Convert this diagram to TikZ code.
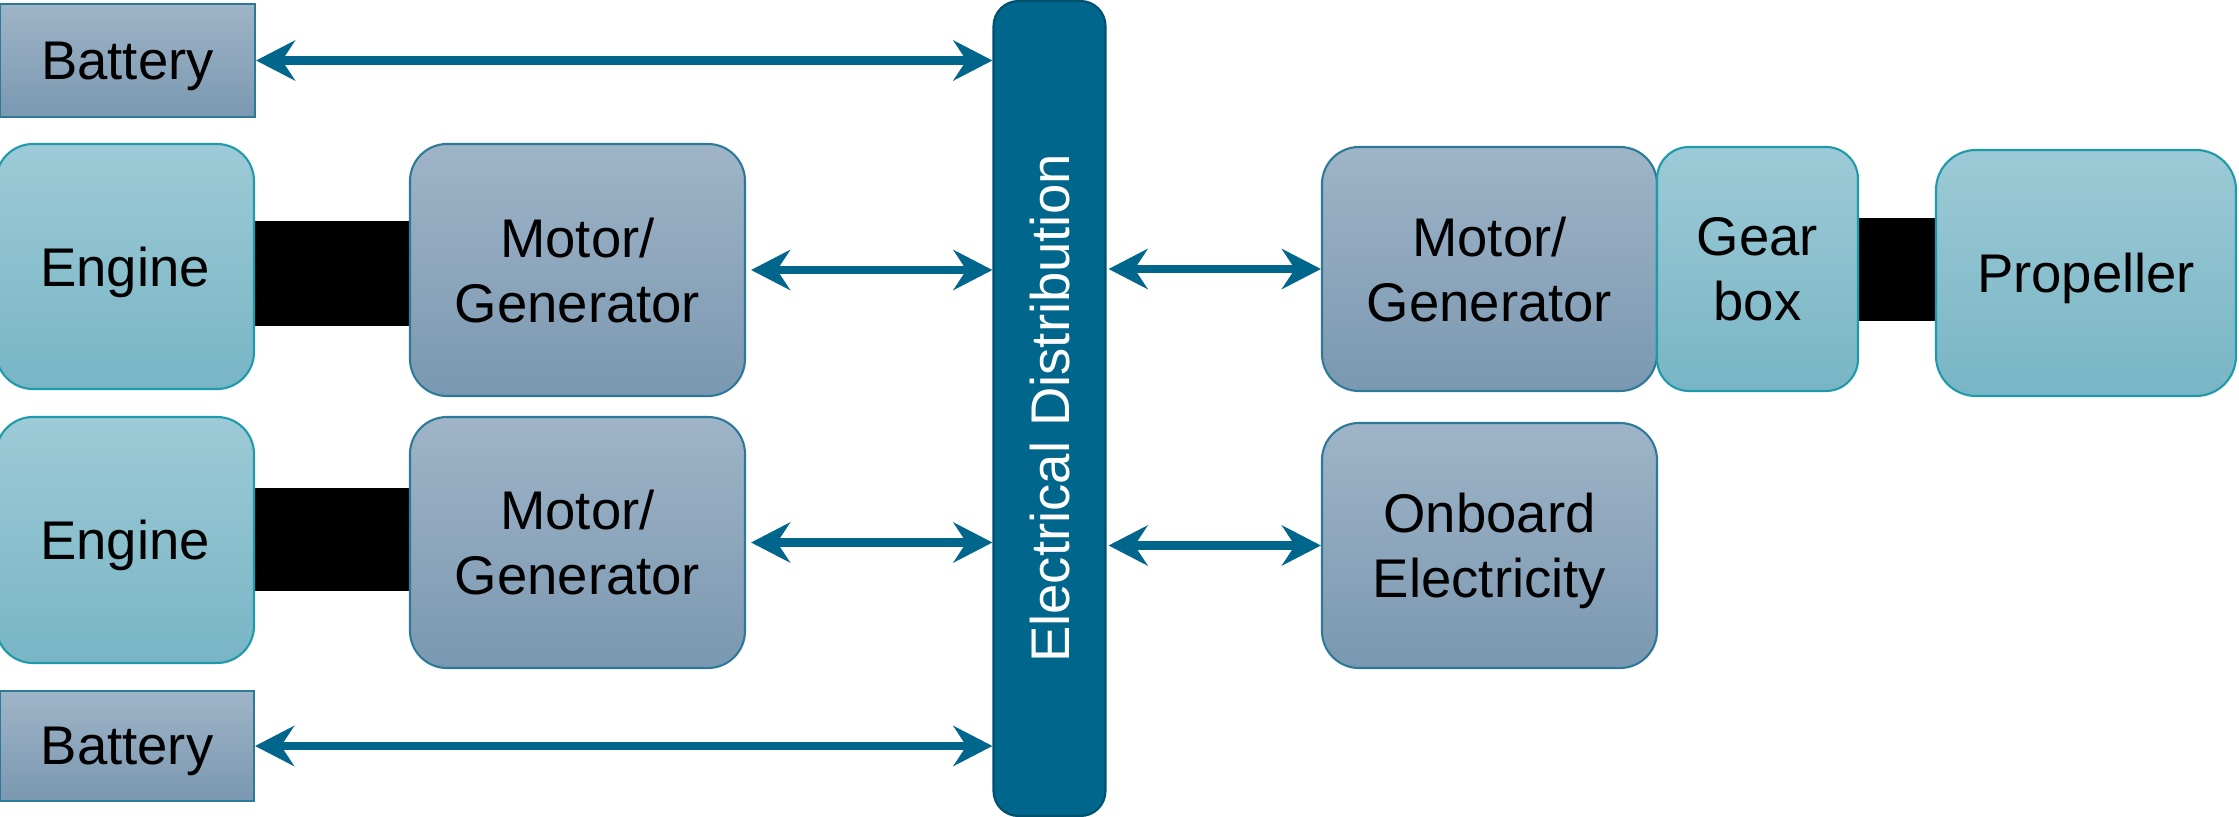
\documentclass[tikz,border=0pt]{standalone}
\usepackage{fontspec}
\setmainfont{Liberation Sans}
\usetikzlibrary{arrows.meta}

\definecolor{busblue}{HTML}{00668C}
\definecolor{busedge}{HTML}{00506E}
\definecolor{slatetop}{HTML}{9FB4C7}
\definecolor{slatebot}{HTML}{7A98B1}
\definecolor{slateedge}{HTML}{2C7A98}
\definecolor{tealtop}{HTML}{9DCAD6}
\definecolor{tealbot}{HTML}{78B5C5}
\definecolor{tealedge}{HTML}{1E9AAA}

\tikzset{
  lbl/.style={font=\fontsize{15.5pt}{18.5pt}\selectfont, align=center, text=black, inner sep=0pt, text depth=0pt},
  elecbox/.style={lbl, draw=slateedge, line width=0.6pt, top color=slatetop, bottom color=slatebot, rounded corners=0.37cm},
  batbox/.style={lbl, draw=slateedge, line width=0.6pt, top color=slatetop, bottom color=slatebot},
  mechbox/.style={lbl, draw=tealedge, line width=0.6pt, top color=tealtop, bottom color=tealbot, rounded corners=0.37cm},
  shaft/.style={fill=black, draw=none, inner sep=0pt},
  busbar/.style={fill=busblue, draw=busedge, line width=0.6pt, rounded corners=0.25cm, inner sep=0pt},
  tip/.style={Stealth[length=0.39cm, width=0.40cm, inset=0.13cm]},
  link/.style={draw=busblue, line width=2.3pt, {Stealth[length=0.39cm, width=0.40cm, inset=0.13cm]}-{Stealth[length=0.39cm, width=0.40cm, inset=0.13cm]}}
}

\begin{document}
\begin{tikzpicture}
\useasboundingbox (0,0) rectangle (22.39,-8.17);

% mechanical shafts (under the boxes)
\node[shaft, minimum width=1.60cm, minimum height=1.05cm] (shaft1) at (3.32,-2.735) {};
\node[shaft, minimum width=1.60cm, minimum height=1.03cm] (shaft2) at (3.32,-5.395) {};
\node[shaft, minimum width=0.82cm, minimum height=1.03cm] (shaft3) at (18.97,-2.695) {};

% electrical distribution bus
\node[busbar, minimum width=1.12cm, minimum height=8.15cm] (bus) at (10.495,-4.085) {};
\node[rotate=90, text=white, font=\fontsize{15.5pt}{18.5pt}\selectfont, text depth=0pt] (buslabel) at (bus.center) {Electrical Distribution};

% left side
\node[batbox, minimum width=2.55cm, minimum height=1.13cm] (bat1) at (1.275,-0.605) {Battery};
\node[mechbox, minimum width=2.58cm, minimum height=2.45cm] (eng1) at (1.25,-2.665) {Engine};
\node[elecbox, minimum width=3.35cm, minimum height=2.52cm] (mg1) at (5.775,-2.70) {Motor/\\Generator};
\node[mechbox, minimum width=2.58cm, minimum height=2.46cm] (eng2) at (1.25,-5.40) {Engine};
\node[elecbox, minimum width=3.35cm, minimum height=2.51cm] (mg2) at (5.775,-5.425) {Motor/\\Generator};
\node[batbox, minimum width=2.54cm, minimum height=1.10cm] (bat2) at (1.27,-7.46) {Battery};

% right side
\node[elecbox, minimum width=3.35cm, minimum height=2.44cm] (mg3) at (14.895,-2.69) {Motor/\\Generator};
\node[mechbox, minimum width=2.01cm, minimum height=2.44cm, rounded corners=0.32cm] (gear) at (17.575,-2.69) {Gear\\box};
\node[mechbox, minimum width=3.00cm, minimum height=2.46cm, rounded corners=0.40cm] (prop) at (20.86,-2.73) {Propeller};
\node[elecbox, minimum width=3.35cm, minimum height=2.45cm] (onb) at (14.895,-5.455) {Onboard\\Electricity};

% electrical links
\draw[link] (bat1.east) -- (bus.west |- bat1.east);
\draw[link, shorten <=0.05cm] (mg1.east) -- (bus.west |- mg1.east);
\draw[link, shorten <=0.05cm] (mg2.east) -- (bus.west |- mg2.east);
\draw[link] (bat2.east) -- (bus.west |- bat2.east);
\draw[link, shorten <=0.02cm] (bus.east |- mg3.west) -- (mg3.west);
\draw[link, shorten <=0.02cm] (bus.east |- onb.west) -- (onb.west);
\end{tikzpicture}
\end{document}
